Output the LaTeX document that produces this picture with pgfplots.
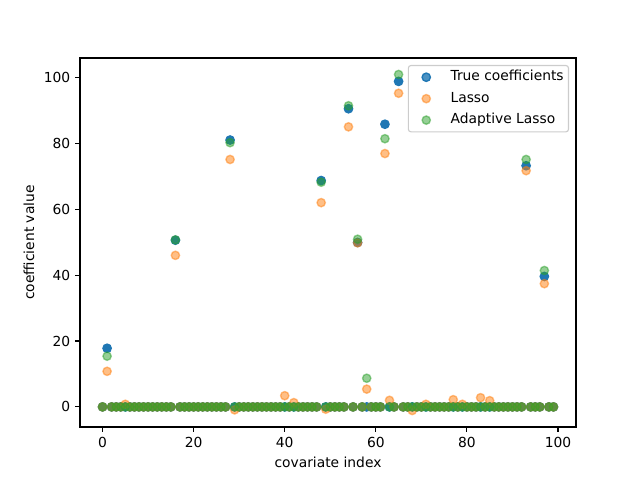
\documentclass[border=0pt]{standalone}
\usepackage{pgfplots}
\usepackage{pgfplotstable}
\pgfplotsset{compat=1.18}
\usepackage{fontspec}
\setmainfont{DejaVu Sans}
\definecolor{tabblue}{RGB}{31,119,180}
\definecolor{taborange}{RGB}{255,127,14}
\definecolor{tabgreen}{RGB}{44,160,44}
\pgfplotstableread{
idx true lasso ada
0 0 0 0
1 17.8 10.8 15.4
2 0 0 0
3 0 0 0
4 0 0 0
5 0 0.8 0
6 0 0 0
7 0 0 0
8 0 0 0
9 0 0 0
10 0 0 0
11 0 0 0
12 0 0 0
13 0 0 0
14 0 0 0
15 0 0 0
16 50.6 46.0 50.7
17 0 0 0
18 0 0 0
19 0 0 0
20 0 0 0
21 0 0 0
22 0 0 0
23 0 0 0
24 0 0 0
25 0 0 0
26 0 0 0
27 0 0 0
28 81.0 75.1 80.2
29 0 -0.9 0
30 0 0 0
31 0 0 0
32 0 0 0
33 0 0 0
34 0 0 0
35 0 0 0
36 0 0 0
37 0 0 0
38 0 0 0
39 0 0 0
40 0 3.4 0
41 0 0 0
42 0 1.3 0
43 0 0 0
44 0 0 0
45 0 0 0
46 0 0 0
47 0 0 0
48 68.7 62.0 68.2
49 0 -0.7 0
50 0 0 0
51 0 0 0
52 0 0 0
53 0 0 0
54 90.5 85.0 91.4
55 0 0 0
56 49.9 49.8 50.9
57 0 0 0
58 0 5.4 8.7
59 0 0 0
60 0 0 0
61 0 0 0
62 85.8 76.9 81.4
63 0 2.0 0
64 0 0 0
65 98.8 95.2 100.9
66 0 0 0
67 0 0 0
68 0 -1.1 0
69 0 0 0
70 0 0 0
71 0 0.8 0
72 0 0 0
73 0 0 0
74 0 0 0
75 0 0 0
76 0 0 0
77 0 2.2 0
78 0 0 0
79 0 0.8 0
80 0 0 0
81 0 0 0
82 0 0 0
83 0 2.8 0
84 0 0 0
85 0 1.9 0
86 0 0 0
87 0 0 0
88 0 0 0
89 0 0 0
90 0 0 0
91 0 0 0
92 0 0 0
93 73.2 71.7 75.1
94 0 0 0
95 0 0 0
96 0 0 0
97 39.6 37.4 41.4
98 0 0 0
99 0 0 0
}\coefs
\begin{document}
\begin{tikzpicture}
\begin{axis}[
  scale only axis,
  width=4.96in, height=3.69in,
  xmin=-4.95, xmax=103.95,
  ymin=-6.1, ymax=105.9,
  xtick={0,20,40,60,80,100},
  ytick={0,20,40,60,80,100},
  tick pos=left,
  tick align=outside,
  major tick length=3.5pt,
  every tick/.style={black, line width=0.8pt},
  axis line style={line width=0.8pt},
  /pgf/number format/assume math mode=true,
  ticklabel style={font=\fontsize{10}{12}\selectfont},
  label style={font=\fontsize{10}{12}\selectfont},
  xlabel={covariate index},
  ylabel={coefficient value},
  legend cell align=left,
  legend style={at={(rel axis cs:1,1)}, anchor=north east, xshift=-5pt, yshift=-5pt,
    draw=black!20, line width=0.8pt, rounded corners=2pt, fill=white, fill opacity=0.8, text opacity=1,
    font=\fontsize{10}{12}\selectfont, inner xsep=3pt, inner ysep=3pt, row sep=4.5pt,
    nodes={inner sep=0.5pt, text height=7.5pt, text depth=2.5pt}},
  legend image code/.code={\path[draw=none,fill=none] (0cm,0cm) -- (0.95cm,0cm); \draw[#1, only marks] plot coordinates {(0.35cm,0cm)};},
]
\addplot[only marks, mark=*, mark size=3pt, mark options={draw=tabblue, fill=tabblue, line width=1pt}] table[x=idx, y=true] {\coefs};
\addlegendentry{True coefficients}
\addplot[only marks, mark=*, mark size=3pt, mark options={draw=taborange, fill=taborange, line width=1pt, opacity=0.5}] table[x=idx, y=lasso] {\coefs};
\addlegendentry{Lasso}
\addplot[only marks, mark=*, mark size=3pt, mark options={draw=tabgreen, fill=tabgreen, line width=1pt, opacity=0.5}] table[x=idx, y=ada] {\coefs};
\addlegendentry{Adaptive Lasso}
\end{axis}
\path (current axis.south west) ++(-0.8in,-0.53in) coordinate (bl);
\path (current axis.north east) ++(0.64in,0.58in) coordinate (tr);
\path (bl) rectangle (tr);
\end{tikzpicture}
\end{document}
